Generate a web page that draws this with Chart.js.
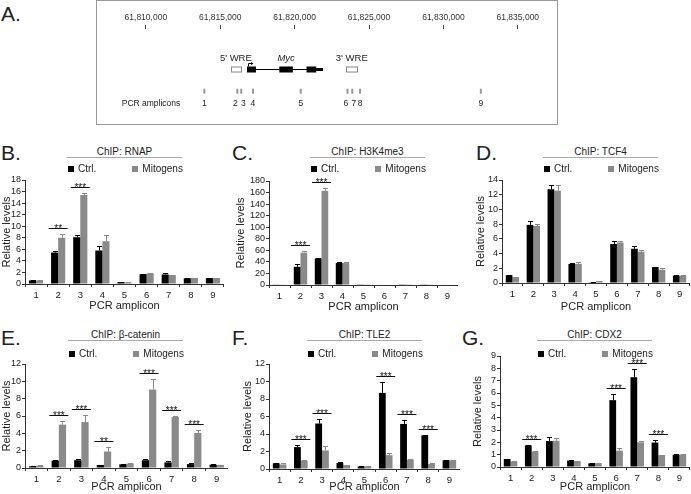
<!DOCTYPE html>
<html>
<head>
<meta charset="utf-8">
<script src="https://cdn.jsdelivr.net/npm/chart.js@4.4.1/dist/chart.umd.min.js"></script>
<style>
  body { margin: 0; width: 691px; height: 494px; position: relative; overflow: hidden; background: #fff;
         font-family: 'Liberation Sans', Arial, sans-serif; color: #222; }
  .abs { position: absolute; }
  .letter { font-size: 21px; line-height: 22px; }
  .ttl { font-size: 10px; line-height: 11px; height: 11px; text-align: center; border-bottom: 1.5px solid #aaa; }
  .leg { font-size: 10px; line-height: 10px; white-space: nowrap; }
  .sq { display: inline-block; width: 6px; height: 6px; margin-right: 4px; vertical-align: 0px; }
  #boxA { border: 1px solid #999; }
</style>
</head>
<body>
<div class="abs letter" style="left:1px;top:3px">A.</div>
<div class="abs letter" style="left:1px;top:142px">B.</div>
<div class="abs letter" style="left:232px;top:142px">C.</div>
<div class="abs letter" style="left:476px;top:142px">D.</div>
<div class="abs letter" style="left:1px;top:327px">E.</div>
<div class="abs letter" style="left:232px;top:327px">F.</div>
<div class="abs letter" style="left:462px;top:327px">G.</div>

<div id="boxA" class="abs" style="left:96px;top:0px;width:460px;height:123px">
  <canvas id="cA" width="460" height="123"></canvas>
</div>

<div class="abs ttl" style="left:67px;top:146px;width:115px">ChIP: RNAP</div>
<div class="abs ttl" style="left:310px;top:146px;width:115px">ChIP: H3K4me3</div>
<div class="abs ttl" style="left:543px;top:146px;width:115px">ChIP: TCF4</div>
<div class="abs ttl" style="left:68px;top:329px;width:115px">ChIP: β-catenin</div>
<div class="abs ttl" style="left:307px;top:329px;width:115px">ChIP: TLE2</div>
<div class="abs ttl" style="left:537px;top:329px;width:115px">ChIP: CDX2</div>

<script>
// ---- data ----
const amplicons = ['1', '2', '3', '4', '5', '6', '7', '8', '9'];
const seriesNames = ['Ctrl.', 'Mitogens'];

// panel A: genomic map (bp)
const coordTicks = [61810000, 61815000, 61820000, 61825000, 61830000, 61835000];
const ampliconPos = [61813930, 61816150, 61816410, 61817200, 61820410, 61823550, 61823875, 61824400, 61832515];
const wreLabels = ["5' WRE", "3' WRE"];
const wreRegions = [[61815700, 61816400], [61823480, 61824200]];
const mycSpan = [61816800, 61821910];
const mycExons = [[61816800, 61817400], [61818970, 61819880], [61820800, 61821450]];
const mycUtr = [61821450, 61821910];

// B: RNAP
const rnapCtrl = [0.62, 5.45, 8.1, 5.8, 0.35, 1.7, 1.65, 0.98, 1.02];
const rnapCtrlErr = [0.05, 0.3, 0.3, 0.85, 0.05, 0.1, 0.3, 0.08, 0.05];
const rnapMito = [0.62, 8.0, 15.4, 7.4, 0.28, 1.82, 1.55, 1.05, 1.02];
const rnapMitoErr = [0.05, 0.65, 0.35, 1.05, 0.05, 0.12, 0.05, 0.06, 0.05];
const rnapSig = ['', '**', '***', '', '', '', '', '', ''];

// C: H3K4me3
const h3Ctrl = [0.6, 31.5, 46, 38, 0.5, 0.8, 0.5, 0.5, 0.8];
const h3CtrlErr = [0, 4, 1.5, 1, 0, 0, 0, 0, 0];
const h3Mito = [0.6, 56, 163, 38, 0.5, 0.8, 0.5, 0.5, 0.8];
const h3MitoErr = [0, 3.5, 4.5, 1, 0, 0, 0, 0, 0];
const h3Sig = ['', '***', '***', '', '', '', '', '', ''];

// D: TCF4
const tcfCtrl = [1.05, 7.9, 12.75, 2.6, 0.12, 5.3, 4.65, 2.15, 1.0];
const tcfCtrlErr = [0.03, 0.5, 0.55, 0.08, 0.02, 0.4, 0.35, 0.05, 0.03];
const tcfMito = [0.8, 7.75, 12.55, 2.6, 0.25, 5.5, 4.25, 1.8, 1.0];
const tcfMitoErr = [0.03, 0.3, 0.8, 0.25, 0.03, 0.25, 0.3, 0.25, 0.03];
const tcfSig = ['', '', '', '', '', '', '', '', ''];

// E: beta-catenin
const bcatCtrl = [0.2, 0.85, 0.9, 0.35, 0.42, 0.9, 0.65, 0.45, 0.38];
const bcatCtrlErr = [0.03, 0.05, 0.12, 0.03, 0.03, 0.12, 0.12, 0.12, 0.03];
const bcatMito = [0.27, 5.0, 5.3, 1.9, 0.5, 9.05, 5.88, 4.05, 0.36];
const bcatMitoErr = [0.03, 0.45, 0.85, 0.5, 0.03, 1.25, 0.1, 0.3, 0.03];
const bcatSig = ['', '***', '***', '**', '', '***', '***', '***', ''];

// F: TLE2
const tleCtrl = [0.65, 2.5, 5.2, 0.7, 0.3, 8.7, 5.15, 3.85, 1.0];
const tleCtrlErr = [0.08, 0.28, 0.5, 0.05, 0.03, 1.25, 0.45, 0.08, 0.03];
const tleMito = [0.52, 0.95, 2.12, 0.45, 0.3, 1.58, 1.07, 0.57, 1.0];
const tleMitoErr = [0.22, 0.08, 0.55, 0.05, 0.03, 0.3, 0.12, 0.06, 0.03];
const tleSig = ['', '***', '***', '', '', '***', '***', '***', ''];

// G: CDX2
const cdxCtrl = [0.65, 1.75, 2.1, 0.53, 0.3, 5.42, 7.28, 1.98, 1.0];
const cdxCtrlErr = [0.03, 0.05, 0.35, 0.03, 0.02, 0.48, 0.7, 0.2, 0.02];
const cdxMito = [0.45, 1.24, 2.13, 0.48, 0.32, 1.32, 2.0, 0.97, 1.0];
const cdxMitoErr = [0.03, 0.03, 0.2, 0.03, 0.02, 0.2, 0.13, 0.03, 0.02];
const cdxSig = ['', '***', '', '', '', '***', '***', '***', ''];

const CTRL_COLOR = '#000000';
const MITO_COLOR = '#8a8a8a';
const FONT = "'Liberation Sans', Arial, sans-serif";
Chart.defaults.font.family = FONT;
Chart.defaults.color = '#222';

// ---- panel A ----
const mapPlugin = {
  id: 'map',
  afterDatasetsDraw(chart) {
    const { ctx, scales: { x, y } } = chart;
    const px = v => x.getPixelForValue(v);
    const py = v => y.getPixelForValue(v);
    ctx.save();
    ctx.font = '9.5px ' + FONT;
    ctx.fillStyle = '#222';
    ctx.textAlign = 'center';
    ctx.textBaseline = 'middle';

    const gy = Math.round(py(43)) + 0.5;
    // WRE boxes + labels
    wreRegions.forEach((r, i) => {
      ctx.strokeStyle = '#888';
      ctx.lineWidth = 1;
      ctx.strokeRect(Math.round(px(r[0])) + 0.5, gy - 2.5, Math.round(px(r[1]) - px(r[0])), 5);
      ctx.fillText(wreLabels[i], (px(r[0]) + px(r[1])) / 2, py(32));
    });
    // Myc gene
    ctx.strokeStyle = '#000';
    ctx.beginPath();
    ctx.moveTo(px(mycSpan[0]), gy);
    ctx.lineTo(px(mycSpan[1]), gy);
    ctx.stroke();
    ctx.fillStyle = '#000';
    mycExons.forEach(e => ctx.fillRect(px(e[0]), gy - 3, px(e[1]) - px(e[0]), 6));
    ctx.fillRect(px(mycUtr[0]), gy - 1.5, px(mycUtr[1]) - px(mycUtr[0]), 3);
    // TSS arrow
    const tx = Math.round(px(mycExons[0][0])) + 1.5;
    ctx.beginPath();
    ctx.moveTo(tx, gy - 3);
    ctx.lineTo(tx, gy - 6);
    ctx.lineTo(tx + 3, gy - 6);
    ctx.stroke();
    ctx.beginPath();
    ctx.moveTo(tx + 5, gy - 6);
    ctx.lineTo(tx + 2.5, gy - 7.5);
    ctx.lineTo(tx + 2.5, gy - 4.5);
    ctx.fill();
    ctx.font = 'italic 9.5px ' + FONT;
    ctx.fillStyle = '#222';
    ctx.fillText('Myc', (px(mycExons[1][0]) + px(mycExons[1][1])) / 2, py(32));

    // amplicon numbers (spread apart when they crowd)
    ctx.font = '8.5px ' + FONT;
    const lx = ampliconPos.map(px);
    for (let i = 1; i < lx.length; i++) {
      if (lx[i] - lx[i - 1] < 6) {
        const mid = (lx[i] + lx[i - 1]) / 2;
        lx[i - 1] = mid - 4;
        lx[i] = mid + 4;
      }
    }
    amplicons.forEach((a, i) => ctx.fillText(a, lx[i], py(80)));
    ctx.fillText('PCR amplicons', 54, py(80));
    ctx.restore();
  }
};

new Chart(document.getElementById('cA'), {
  type: 'scatter',
  data: {
    datasets: [{
      data: ampliconPos.map(v => ({ x: v, y: 67 })),
      pointStyle: 'line',
      rotation: 90,
      radius: 2.5,
      borderWidth: 2,
      borderColor: '#999',
      backgroundColor: '#999'
    }]
  },
  options: {
    responsive: false,
    animation: false,
    events: [],
    layout: { padding: { top: 10, left: 0, right: 0, bottom: 0 } },
    plugins: { legend: { display: false }, tooltip: { enabled: false } },
    scales: {
      x: {
        type: 'linear',
        position: 'top',
        min: 61807120,
        max: 61837230,
        afterBuildTicks: s => { s.ticks = coordTicks.map(v => ({ value: v })); },
        ticks: { font: { size: 8.5 }, color: '#333', padding: 2, maxRotation: 0,
                 callback: v => v.toLocaleString('en-US') },
        grid: { drawOnChartArea: false, tickLength: 4, color: '#444' },
        border: { display: false }
      },
      y: { display: false, reverse: true, min: 0, max: 96 }
    }
  },
  plugins: [mapPlugin]
});

// ---- bar panels ----
const errPlugin = {
  id: 'err',
  afterDatasetsDraw(chart) {
    const { ctx, scales: { y } } = chart;
    chart.data.datasets.forEach((ds, di) => {
      chart.getDatasetMeta(di).data.forEach((bar, i) => {
        const e = ds.err[i];
        if (!e) return;
        const top = Math.round(y.getPixelForValue(ds.data[i] + e)) + 0.5;
        const bx = Math.round(bar.x) + 0.5;
        ctx.save();
        ctx.strokeStyle = ds.backgroundColor;
        ctx.lineWidth = 1;
        ctx.beginPath();
        ctx.moveTo(bx, bar.y);
        ctx.lineTo(bx, top);
        ctx.moveTo(bx - 2.5, top);
        ctx.lineTo(bx + 2.5, top);
        ctx.stroke();
        ctx.restore();
      });
    });
  }
};

const sigPlugin = {
  id: 'sig',
  afterDatasetsDraw(chart, args, opts) {
    const marks = opts.marks || [];
    const { ctx, scales: { x, y } } = chart;
    const [d0, d1] = chart.data.datasets;
    ctx.save();
    ctx.strokeStyle = '#111';
    ctx.fillStyle = '#111';
    ctx.lineWidth = 1;
    ctx.font = '10px ' + FONT;
    ctx.textAlign = 'center';
    ctx.textBaseline = 'alphabetic';
    marks.forEach((s, i) => {
      if (!s) return;
      const top = Math.max(d0.data[i] + d0.err[i], d1.data[i] + d1.err[i]);
      const ly = Math.round(y.getPixelForValue(top)) - 5.5;
      const cx = x.getPixelForValue(i);
      ctx.beginPath();
      ctx.moveTo(cx - 9.5, ly);
      ctx.lineTo(cx + 9.5, ly);
      ctx.stroke();
      ctx.fillText(s, cx, ly + 3);
    });
    ctx.restore();
  }
};

function barPanel(p) {
  const cv = document.createElement('canvas');
  cv.width = p.width;
  cv.height = p.height;
  cv.className = 'abs';
  cv.style.left = p.left + 'px';
  cv.style.top = p.top + 'px';
  document.body.appendChild(cv);

  const leg = document.createElement('div');
  leg.className = 'abs leg';
  leg.style.left = p.legLeft + 'px';
  leg.style.top = p.legTop + 'px';
  leg.innerHTML =
    '<span class="sq" style="background:' + CTRL_COLOR + '"></span>' + seriesNames[0] +
    '<span class="sq" style="background:' + MITO_COLOR + ';margin-left:' + p.legGap + 'px"></span>' + seriesNames[1];
  document.body.appendChild(leg);

  new Chart(cv, {
    type: 'bar',
    data: {
      labels: amplicons,
      datasets: [
        { label: seriesNames[0], data: p.ctrl, err: p.ctrlErr, backgroundColor: CTRL_COLOR,
          categoryPercentage: 0.64, barPercentage: 1.0 },
        { label: seriesNames[1], data: p.mito, err: p.mitoErr, backgroundColor: MITO_COLOR,
          categoryPercentage: 0.64, barPercentage: 1.0 }
      ]
    },
    options: {
      responsive: false,
      animation: false,
      events: [],
      layout: { padding: { top: 10, left: 0, right: 0, bottom: 0 } },
      plugins: { legend: { display: false }, tooltip: { enabled: false }, sig: { marks: p.sig } },
      scales: {
        x: {
          grid: { drawOnChartArea: false, tickLength: 3, color: '#333' },
          border: { color: '#333' },
          ticks: { font: { size: 9.5 }, color: '#222', padding: 3, maxRotation: 0 },
          title: { display: true, text: 'PCR amplicon', font: { size: 11 }, color: '#222', padding: { top: 0, bottom: 1 } },
          afterFit: s => { s.height = p.axisH; }
        },
        y: {
          min: 0,
          max: p.yMax,
          ticks: { stepSize: p.yStep, autoSkip: false, font: { size: 9 }, color: '#222', padding: 1 },
          grid: { drawOnChartArea: false, tickLength: 3, color: '#333' },
          border: { color: '#333' },
          title: { display: true, text: 'Relative levels', font: { size: 11 }, color: '#222', padding: { top: 0, bottom: 0 } },
          afterFit: s => { s.width = p.axisW; }
        }
      }
    },
    plugins: [errPlugin, sigPlugin]
  });
}

barPanel({ left: 0, top: 170, width: 224, height: 144, axisW: 25, axisH: 30, yMax: 18, yStep: 2,
  ctrl: rnapCtrl, ctrlErr: rnapCtrlErr, mito: rnapMito, mitoErr: rnapMitoErr, sig: rnapSig,
  legLeft: 68, legTop: 164, legGap: 36 });
barPanel({ left: 234, top: 171, width: 224, height: 144, axisW: 35, axisH: 30, yMax: 180, yStep: 20,
  ctrl: h3Ctrl, ctrlErr: h3CtrlErr, mito: h3Mito, mitoErr: h3MitoErr, sig: h3Sig,
  legLeft: 311, legTop: 164, legGap: 36 });
barPanel({ left: 474, top: 170, width: 216, height: 145, axisW: 28, axisH: 32, yMax: 14, yStep: 2,
  ctrl: tcfCtrl, ctrlErr: tcfCtrlErr, mito: tcfMito, mitoErr: tcfMitoErr, sig: tcfSig,
  legLeft: 544, legTop: 164, legGap: 36 });
barPanel({ left: 0, top: 354, width: 228, height: 141, axisW: 25, axisH: 27, yMax: 12, yStep: 2,
  ctrl: bcatCtrl, ctrlErr: bcatCtrlErr, mito: bcatMito, mitoErr: bcatMitoErr, sig: bcatSig,
  legLeft: 69, legTop: 349, legGap: 36 });
barPanel({ left: 241, top: 354, width: 219, height: 141, axisW: 28, axisH: 26, yMax: 12, yStep: 2,
  ctrl: tleCtrl, ctrlErr: tleCtrlErr, mito: tleMito, mitoErr: tleMitoErr, sig: tleSig,
  legLeft: 308, legTop: 349, legGap: 36 });
barPanel({ left: 471, top: 346, width: 219, height: 149, axisW: 29, axisH: 28, yMax: 9, yStep: 1,
  ctrl: cdxCtrl, ctrlErr: cdxCtrlErr, mito: cdxMito, mitoErr: cdxMitoErr, sig: cdxSig,
  legLeft: 538, legTop: 349, legGap: 36 });
</script>
</body>
</html>
